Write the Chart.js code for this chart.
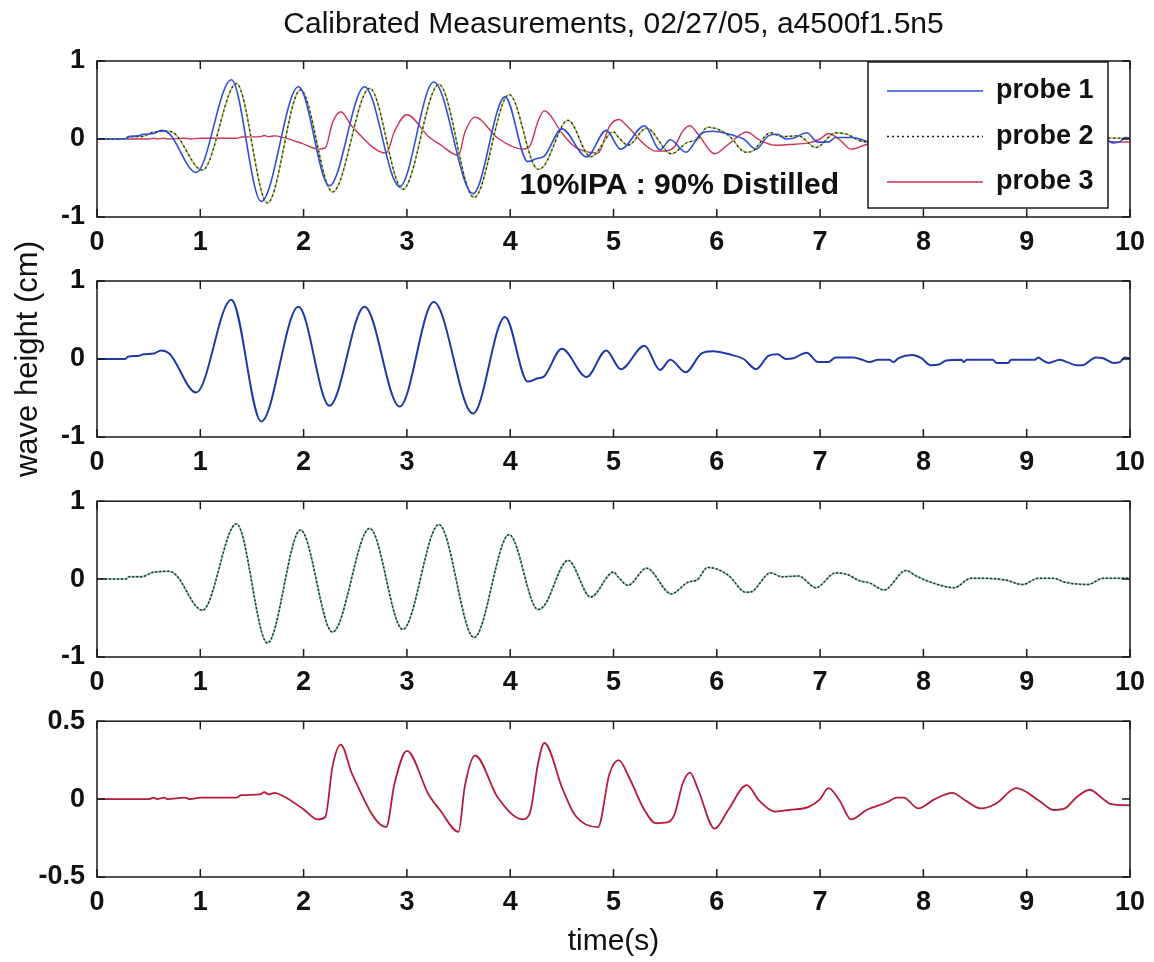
<!DOCTYPE html>
<html>
<head>
<meta charset="utf-8">
<title>Calibrated Measurements</title>
<script src="https://cdn.jsdelivr.net/npm/chart.js@4.4.0/dist/chart.umd.min.js"></script>
<style>
  body { margin: 0; background: #fff; }
  #figure { position: relative; width: 1154px; height: 962px; }
  #figure canvas { position: absolute; left: 0; }
</style>
</head>
<body>
<div id="figure">
  <canvas id="allProbes" width="1154" height="272" style="top:0px"></canvas>
  <canvas id="probe1Chart" width="1154" height="261" style="top:231px"></canvas>
  <canvas id="probe2Chart" width="1154" height="231" style="top:481px"></canvas>
  <canvas id="probe3Chart" width="1154" height="261" style="top:701px"></canvas>
</div>
<script>
// time (s) / calibrated wave height (cm), one pair of arrays per probe
const probe1Time = [0, 0.27, 0.30, 0.40, 0.45, 0.55, 0.62, 0.70, 0.96, 1.30, 1.59, 1.95, 2.25, 2.59, 2.93, 3.26, 3.64, 3.95,
  4.17, 4.26, 4.33, 4.50, 4.74, 4.93, 5.07, 5.30, 5.45, 5.55, 5.70, 5.85, 5.96, 6.15, 6.26, 6.38, 6.50, 6.59, 6.67, 6.74,
  6.87, 6.98, 7.08, 7.15, 7.32, 7.41, 7.48, 7.56, 7.67, 7.71, 7.76, 7.89, 7.98, 8.07, 8.15, 8.22, 8.37, 8.39, 8.42, 8.67,
  8.71, 8.82, 8.85, 9.08, 9.11, 9.16, 9.21, 9.32, 9.41, 9.48, 9.54, 9.67, 9.74, 9.84, 9.90, 9.95, 10.0];
const probe1Height = [0, 0, 0.03, 0.04, 0.06, 0.07, 0.11, 0.07, -0.43, 0.76, -0.80, 0.67, -0.60, 0.67, -0.61, 0.73, -0.70, 0.54,
  -0.29, -0.25, -0.22, 0.13, -0.23, 0.11, -0.13, 0.17, -0.14, -0.01, -0.17, 0.07, 0.10, 0.05, 0.00, -0.13, 0.04, 0.06, 0.00, 0.01,
  0.08, -0.04, -0.04, 0.02, 0.02, -0.01, -0.04, -0.01, -0.01, -0.04, 0.01, 0.05, 0.01, -0.08, -0.07, -0.02, -0.01, -0.04, -0.01, -0.01,
  -0.05, -0.05, -0.01, -0.01, 0.02, -0.02, -0.05, -0.01, -0.05, -0.08, -0.08, 0.02, 0.01, -0.05, -0.04, 0.02, 0.01];

const probe2Time = [0, 0.28, 0.31, 0.43, 0.55, 0.70, 0.76, 1.02, 1.35, 1.65, 1.97, 2.28, 2.64, 2.96, 3.31, 3.65, 3.99, 4.27,
  4.33, 4.56, 4.78, 5.00, 5.05, 5.14, 5.32, 5.56, 5.72, 5.81, 5.91, 6.00, 6.12, 6.28, 6.34, 6.52, 6.63, 6.79, 6.96, 7.15,
  7.26, 7.38, 7.48, 7.62, 7.83, 7.93, 8.05, 8.30, 8.46, 8.61, 8.79, 8.96, 9.11, 9.26, 9.37, 9.59, 9.74, 10.0];
const probe2Height = [0, 0, 0.03, 0.03, 0.09, 0.10, 0.06, -0.40, 0.71, -0.82, 0.63, -0.68, 0.65, -0.645, 0.70, -0.75, 0.57, -0.39,
  -0.34, 0.24, -0.23, 0.09, 0.02, -0.08, 0.14, -0.19, -0.04, -0.01, 0.15, 0.13, 0.04, -0.17, -0.16, 0.08, 0.03, 0.04, -0.11, 0.08,
  0.06, -0.02, -0.05, -0.14, 0.11, 0.04, -0.03, -0.11, 0.01, 0.01, -0.01, -0.07, 0.01, 0.01, -0.04, -0.07, 0.01, 0.01];

const probe3Time = [0, 0.50, 0.55, 0.58, 0.65, 0.68, 0.85, 0.90, 1.00, 1.10, 1.35, 1.40, 1.58, 1.62, 1.66, 1.72, 1.80, 1.99,
  2.14, 2.21, 2.28, 2.36, 2.47, 2.80, 2.88, 3.00, 3.21, 3.32, 3.50, 3.56, 3.66, 3.88, 4.12, 4.19, 4.27, 4.33, 4.51, 4.63,
  4.85, 4.96, 5.05, 5.15, 5.30, 5.41, 5.52, 5.59, 5.67, 5.74, 5.82, 5.98, 6.11, 6.29, 6.41, 6.56, 6.70, 6.89, 7.00, 7.08,
  7.19, 7.30, 7.45, 7.65, 7.74, 7.81, 7.95, 8.11, 8.28, 8.41, 8.56, 8.70, 8.90, 9.12, 9.26, 9.37, 9.48, 9.61, 9.74, 9.81, 10.0];
const probe3Height = [0, 0, 0.01, 0, 0.01, 0, 0.01, 0, 0.01, 0.01, 0.01, 0.025, 0.03, 0.045, 0.03, 0.04, 0.02, -0.06,
  -0.13, -0.115, 0.21, 0.35, 0.16, -0.18, 0.10, 0.31, 0.03, -0.07, -0.21, 0.08, 0.28, 0.01, -0.13, -0.09, 0.23, 0.36, 0.06, -0.105,
  -0.18, 0.16, 0.25, 0.14, -0.07, -0.155, -0.15, -0.10, 0.10, 0.17, 0.06, -0.19, -0.07, 0.09, -0.01, -0.08, -0.07, -0.05, 0.00, 0.07,
  -0.01, -0.13, -0.07, -0.02, 0.01, 0.01, -0.06, 0.00, 0.04, -0.01, -0.06, -0.03, 0.07, -0.01, -0.07, -0.06, 0.01, 0.06, 0.00, -0.03, -0.04];

const timeTicks = [0, 1, 2, 3, 4, 5, 6, 7, 8, 9, 10];
const heightTicks = [-1, 0, 1];
const probe3Ticks = [-0.5, 0, 0.5];

const FONT = '"Liberation Sans", Arial, Helvetica, sans-serif';

function toPoints(times, heights) {
  return times.map((t, i) => ({ x: t, y: heights[i] }));
}

function trace(times, heights, style) {
  return Object.assign({
    data: toPoints(times, heights),
    pointRadius: 0,
    borderWidth: 1.6,
    cubicInterpolationMode: 'monotone',
    fill: false
  }, style);
}

// box around the axes with inward ticks on all four sides
const framePlugin = {
  id: 'frame',
  afterDatasetsDraw(chart) {
    const { ctx, chartArea: a, scales: { x, y } } = chart;
    ctx.save();
    ctx.strokeStyle = '#1a1a1a';
    ctx.lineWidth = 1.5;
    ctx.strokeRect(a.left, a.top, a.right - a.left, a.bottom - a.top);
    ctx.beginPath();
    x.ticks.forEach(t => {
      const px = x.getPixelForValue(t.value);
      ctx.moveTo(px, a.bottom); ctx.lineTo(px, a.bottom - 8);
      ctx.moveTo(px, a.top); ctx.lineTo(px, a.top + 8);
    });
    y.ticks.forEach(t => {
      const py = y.getPixelForValue(t.value);
      ctx.moveTo(a.left, py); ctx.lineTo(a.left + 8, py);
      ctx.moveTo(a.right, py); ctx.lineTo(a.right - 8, py);
    });
    ctx.stroke();
    ctx.restore();
  }
};

// text placed in data coordinates
const notePlugin = {
  id: 'note',
  afterDatasetsDraw(chart, args, opts) {
    if (!opts.text) return;
    const { ctx, scales: { x, y } } = chart;
    ctx.save();
    ctx.font = 'bold 30px ' + FONT;
    ctx.fillStyle = '#111';
    ctx.textAlign = 'left';
    ctx.textBaseline = 'middle';
    ctx.fillText(opts.text, x.getPixelForValue(opts.x), y.getPixelForValue(opts.y));
    ctx.restore();
  }
};

// boxed legend in the upper right corner of the axes
const boxLegend = {
  id: 'boxLegend',
  afterDraw(chart, args, opts) {
    if (!opts.show) return;
    const { ctx, chartArea: a } = chart;
    const w = 240, h = 146;
    const left = a.right - 22 - w, top = a.top + 1;
    ctx.save();
    ctx.fillStyle = '#fff';
    ctx.fillRect(left, top, w, h);
    ctx.strokeStyle = '#1a1a1a';
    ctx.lineWidth = 1.5;
    ctx.strokeRect(left, top, w, h);
    ctx.font = 'bold 27px ' + FONT;
    ctx.textBaseline = 'middle';
    chart.data.datasets.filter(d => d.label).forEach((d, i) => {
      const cy = top + 29 + i * 45.5;
      ctx.strokeStyle = d.borderColor;
      ctx.lineWidth = 1.5;
      ctx.setLineDash(d.borderDash || []);
      ctx.beginPath();
      ctx.moveTo(left + 19, cy);
      ctx.lineTo(left + 115, cy);
      ctx.stroke();
      ctx.setLineDash([]);
      ctx.fillStyle = '#111';
      ctx.fillText(d.label, left + 128, cy);
    });
    ctx.restore();
  }
};

function makePanel(id, datasets, cfg) {
  const tickFont = { family: FONT, size: 27, weight: 'bold' };
  return new Chart(document.getElementById(id), {
    type: 'line',
    data: { datasets },
    options: {
      responsive: false,
      animation: false,
      devicePixelRatio: 1,
      layout: { padding: { top: cfg.padTop, right: 24, bottom: 0, left: 0 } },
      plugins: {
        legend: { display: false },
        tooltip: { enabled: false },
        title: cfg.title ? {
          display: true, text: cfg.title, fullSize: false, color: '#111',
          font: { family: FONT, size: 30, weight: 'normal' },
          padding: { top: 7, bottom: 18 }
        } : { display: false },
        note: cfg.note || {},
        boxLegend: { show: !!cfg.legend }
      },
      scales: {
        x: {
          type: 'linear', min: 0, max: 10,
          afterBuildTicks: s => { s.ticks = timeTicks.map(v => ({ value: v })); },
          afterFit: s => { s.height = cfg.xAxisHeight; },
          ticks: { autoSkip: false, maxRotation: 0, padding: 1, color: '#111', font: tickFont, callback: v => String(v) },
          grid: { display: false },
          border: { display: false },
          title: cfg.xTitle ? {
            display: true, text: cfg.xTitle, color: '#111',
            font: { family: FONT, size: 30 }, padding: { top: 0, bottom: 2 }
          } : { display: false }
        },
        y: {
          type: 'linear', min: cfg.yTicks[0], max: cfg.yTicks[cfg.yTicks.length - 1],
          afterBuildTicks: s => { s.ticks = cfg.yTicks.map(v => ({ value: v })); },
          afterFit: s => { s.width = 97; },
          ticks: { padding: 4, color: '#111', font: tickFont, callback: v => String(v) },
          grid: { display: false },
          border: { display: false },
          title: cfg.yTitle ? {
            display: true, text: cfg.yTitle, color: '#111', align: 'center',
            font: { family: FONT, size: 31 }, padding: { top: 10, bottom: 0 }
          } : { display: false }
        }
      }
    },
    plugins: [framePlugin, notePlugin, boxLegend]
  });
}

// all three probes together
makePanel('allProbes', [
  trace(probe1Time, probe1Height, { label: 'probe 1', borderColor: '#2f4fd6', borderWidth: 1.6 }),
  trace(probe2Time, probe2Height, { label: 'probe 2', borderColor: '#222', borderDash: [2, 3], borderWidth: 1.3 }),
  trace(probe2Time, probe2Height, { borderColor: '#a9c45c', borderWidth: 1.6 }),
  trace(probe3Time, probe3Height, { label: 'probe 3', borderColor: '#cc3355', borderWidth: 1.4 })
], {
  padTop: 0, xAxisHeight: 55, yTicks: heightTicks, legend: true,
  title: 'Calibrated Measurements, 02/27/05, a4500f1.5n5',
  note: { text: '10%IPA : 90% Distilled', x: 4.09, y: -0.6 }
});

makePanel('probe1Chart', [
  trace(probe1Time, probe1Height, { borderColor: '#1d3aa6', borderWidth: 2 })
], { padTop: 50, xAxisHeight: 55, yTicks: heightTicks, yTitle: 'wave height (cm)' });

makePanel('probe2Chart', [
  trace(probe2Time, probe2Height, { borderColor: '#2a2a2a', borderDash: [2, 2], borderWidth: 1.5 }),
  trace(probe2Time, probe2Height, { borderColor: '#86c8b0', borderWidth: 1.8 })
], { padTop: 20, xAxisHeight: 55, yTicks: heightTicks });

makePanel('probe3Chart', [
  trace(probe3Time, probe3Height, { borderColor: '#b51c3c', borderWidth: 1.8 })
], { padTop: 20, xAxisHeight: 85, yTicks: probe3Ticks, xTitle: 'time(s)' });
</script>
</body>
</html>
